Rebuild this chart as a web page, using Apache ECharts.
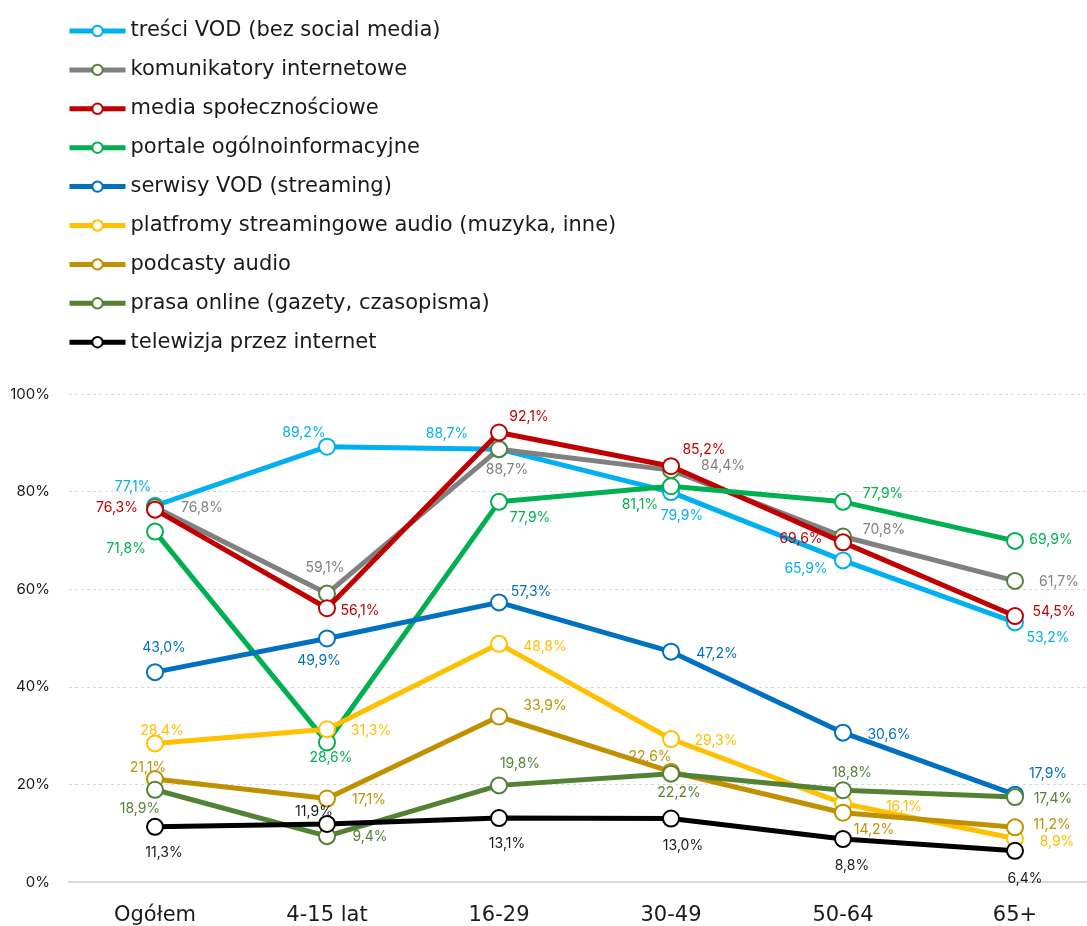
<!DOCTYPE html>
<html>
<head>
<meta charset="utf-8">
<script src="https://cdn.jsdelivr.net/npm/echarts@6/dist/echarts.min.js"></script>
<style>
html,body{margin:0;padding:0;background:#fff;}
#chart{width:1087px;height:926px;}
</style>
</head>
<body>
<div id="chart"></div>
<script>
const categories = ['Ogółem', '4-15 lat', '16-29', '30-49', '50-64', '65+'];
const yTicks = [0, 20, 40, 60, 80, 100];

const names = [
  'treści VOD (bez social media)',
  'komunikatory internetowe',
  'media społecznościowe',
  'portale ogólnoinformacyjne',
  'serwisy VOD (streaming)',
  'platfromy streamingowe audio (muzyka, inne)',
  'podcasty audio',
  'prasa online (gazety, czasopisma)',
  'telewizja przez internet'
];

const tresciVOD     = [77.1, 89.2, 88.7, 79.9, 65.9, 53.2];
const komunikatory  = [76.8, 59.1, 88.7, 84.4, 70.8, 61.7];
const mediaSpol     = [76.3, 56.1, 92.1, 85.2, 69.6, 54.5];
const portale       = [71.8, 28.6, 77.9, 81.1, 77.9, 69.9];
const serwisyVOD    = [43.0, 49.9, 57.3, 47.2, 30.6, 17.9];
const platformyAudio= [28.4, 31.3, 48.8, 29.3, 16.1, 8.9];
const podcasty      = [21.1, 17.1, 33.9, 22.6, 14.2, 11.2];
const prasa         = [18.9, 9.4, 19.8, 22.2, 18.8, 17.4];
const telewizja     = [11.3, 11.9, 13.1, 13.0, 8.8, 6.4];

const seriesValues = [tresciVOD, komunikatory, mediaSpol, portale, serwisyVOD, platformyAudio, podcasty, prasa, telewizja];

// styling
const lineColors   = ['#00B0F0', '#808080', '#C00000', '#00B050', '#0070C0', '#FFC000', '#BF9000', '#548235', '#000000'];
const markerBorder = ['#00B0F0', '#548235', '#C00000', '#00B050', '#0070C0', '#FFC000', '#BF9000', '#548235', '#000000'];
const labelColors  = ['#00B0F0', '#808080', '#C00000', '#00B050', '#0070C0', '#FFC000', '#BF9000', '#548235', '#1a1a1a'];

// label offsets (px) relative to each point
const labelOffsets = [
  [[-22,-19],[-23,-14],[-52,-15],[11,24],[-37,8],[33,15]],
  [[47,1],[-2,-26],[8,21],[52,-4],[41,-7],[44,1]],
  [[-38,-2],[33,3],[30,-16],[33,-16],[-42,-4],[39,-4]],
  [[-29,17],[4,15],[31,16],[-31,19],[40,-8],[36,-1]],
  [[9,-24],[-8,22],[32,-11],[46,2],[46,2],[33,-21]],
  [[7,-13],[44,2],[46,3],[45,2],[61,3],[42,3]],
  [[-7,-11],[42,1],[46,-11],[-21,-15],[31,17],[37,-3]],
  [[-15,19],[43,1],[21,-22],[8,19],[9,-17],[38,2]],
  [[9,26],[-13,-12],[8,26],[12,27],[9,27],[10,28]]
];

const FONT = 'Inter, "Noto Sans", sans-serif';
const WIDE = '"DejaVu Sans", Inter, sans-serif';

function fmt(v){ return v.toFixed(1).replace('.', ',') + '%'; }

const series = seriesValues.map((vals, i) => ({
  name: names[i],
  type: 'line',
  data: vals.map((v, j) => ({
    value: v,
    label: { offset: labelOffsets[i][j] }
  })),
  symbol: 'circle',
  symbolSize: 16,
  showSymbol: true,
  lineStyle: { color: lineColors[i], width: 5 },
  itemStyle: { color: '#ffffff', borderColor: markerBorder[i], borderWidth: 2 },
  emphasis: { disabled: true },
  z: 2 + i,
  label: {
    show: true,
    position: 'inside',
    align: 'center',
    verticalAlign: 'middle',
    color: labelColors[i],
    fontSize: 14,
    fontFamily: FONT,
    formatter: p => fmt(p.value)
  },
  animation: false
}));

const chart = echarts.init(document.getElementById('chart'));
chart.setOption({
  backgroundColor: '#ffffff',
  animation: false,
  textStyle: { fontFamily: FONT },
  legend: {
    orient: 'vertical',
    left: 67,
    top: 19,
    itemWidth: 56,
    itemHeight: 13,
    itemGap: 14.9,
    padding: 0,
    data: names.map((n, i) => ({
      name: n,
      itemStyle: { color: '#ffffff', borderColor: markerBorder[i], borderWidth: 2 },
      lineStyle: { color: lineColors[i], width: 5 }
    })),
    textStyle: { fontSize: 21, color: '#1a1a1a', fontFamily: WIDE, lineHeight: 24 }
  },
  grid: { left: 69, top: 394, width: 1032, height: 488, containLabel: false, outerBoundsMode: 'none' },
  xAxis: {
    type: 'category',
    data: categories,
    boundaryGap: true,
    axisLine: { show: true, lineStyle: { color: '#d9d9d9', width: 2 } },
    axisTick: { show: false },
    axisLabel: { fontSize: 21, color: '#1a1a1a', margin: 23, fontFamily: WIDE }
  },
  yAxis: {
    type: 'value',
    min: yTicks[0],
    max: yTicks[yTicks.length - 1],
    interval: yTicks[1] - yTicks[0],
    axisLine: { show: false },
    axisTick: { show: false },
    splitLine: { lineStyle: { color: '#d9d9d9', type: [3, 3], width: 1 } },
    axisLabel: { formatter: '{value}%', fontSize: 15, color: '#1a1a1a', margin: 19, fontFamily: FONT }
  },
  series: series
});
</script>
</body>
</html>
